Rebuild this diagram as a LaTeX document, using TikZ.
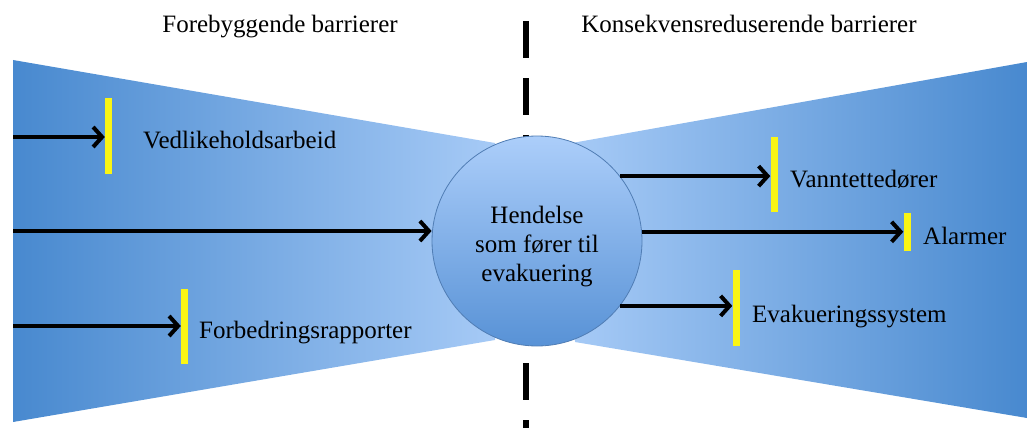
\documentclass[tikz,border=0pt]{standalone}
\usepackage{fontspec}
\setmainfont{Liberation Serif}
\usetikzlibrary{arrows.meta}
\definecolor{bowdark}{RGB}{72,137,207}
\definecolor{bowlight}{RGB}{166,202,246}
\definecolor{circtop}{RGB}{172,206,250}
\definecolor{circbot}{RGB}{88,146,214}
\definecolor{circedge}{RGB}{80,125,180}
\definecolor{baryellow}{RGB}{250,245,20}
\tikzset{
  txt/.style={inner sep=0pt, font=\fontsize{25}{29}\selectfont},
  barrier/.style={fill=baryellow, draw=none, inner sep=0pt, minimum width=7pt},
  flow/.style={line width=4pt, -{Straight Barb[length=9pt,width=20pt]}},
  divider/.style={line width=5.5pt, dash pattern=on 37pt off 20pt},
}
\begin{document}
\begin{tikzpicture}[x=1pt,y=-1pt]
\useasboundingbox (0,0) rectangle (1027,428);
% divider
\coordinate (dtop) at (526,21);
\coordinate (dbot) at (526,428);
\draw[divider] (dtop) -- (dbot);
% bow-tie wings
\shade[left color=bowdark, right color=bowlight] (13,60) -- (495,143) -- (495,340) -- (13,422) -- cycle;
\shade[left color=bowlight, right color=bowdark] (572,143) -- (1027,62) -- (1027,418) -- (575,342) -- cycle;
% central event
\node[circle, minimum size=210pt, inner sep=0pt, draw=circedge, line width=0.8pt, top color=circtop, bottom color=circbot] (ev) at (537,241) {};
\node[txt, align=center] (evt) at (537,247) {Hendelse\\som fører til\\evakuering};
% titles
\node[txt, anchor=base] (t1) at (280,33) {Forebyggende barrierer};
\node[txt, anchor=base] (t2) at (749,33) {Konsekvensreduserende barrierer};
% left barriers
\node[barrier, minimum height=76pt] (b1) at (108.5,136) {};
\node[barrier, minimum height=75pt] (b2) at (184.5,326.5) {};
\coordinate (s1) at (13,137);
\coordinate (s2) at (13,231);
\coordinate (s3) at (13,326);
\draw[flow] (s1) -- (s1 -| b1.west);
\draw[flow] (s2) -- (s2 -| ev.west);
\draw[flow] (s3) -- (s3 -| b2.west);
\node[txt, anchor=base west] (l1) at (143,148) {Vedlikeholdsarbeid};
\node[txt, anchor=base west] (l2) at (199,338) {Forbedringsrapporter};
% right barriers
\node[barrier, minimum height=75pt] (bA) at (774,174.5) {};
\node[barrier, minimum height=38pt] (bB) at (907,232) {};
\node[barrier, minimum height=76pt] (bC) at (736,308) {};
\draw[flow] (ev.38.9) -- (ev.38.9 -| bA.west);
\draw[flow] (ev.5.5) -- (ev.5.5 -| bB.west);
\draw[flow] (ev.-38.9) -- (ev.-38.9 -| bC.west);
\node[txt, anchor=base west] (lA) at (790,187) {Vanntettedører};
\node[txt, anchor=base west] (lB) at (923,244) {Alarmer};
\node[txt, anchor=base west] (lC) at (752,322) {Evakueringssystem};
\end{tikzpicture}
\end{document}
